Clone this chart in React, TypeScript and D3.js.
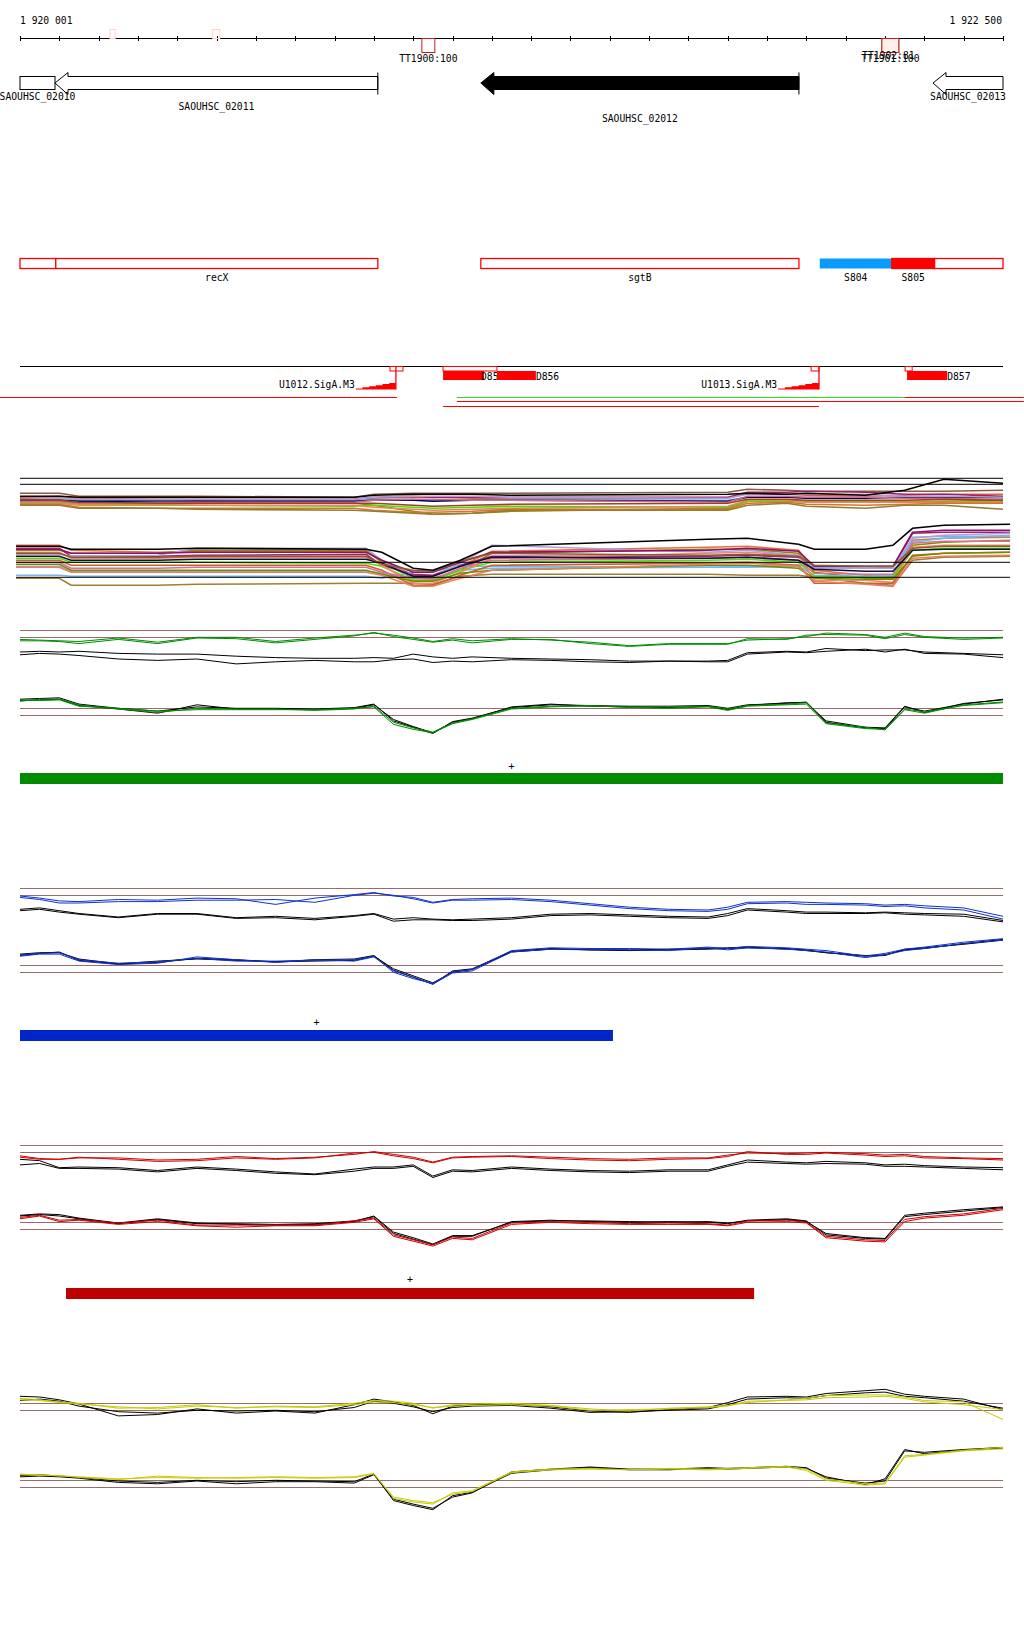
import React from "react";
import * as d3 from "d3";

// ---------------- genomic window ----------------
const windowStartLabel = "1 920 001";
const windowEndLabel = "1 922 500";
const windowLengthBp = 2500;
const tickStepBp = 100;

// ---------------- genes ----------------
const geneNames = ["SAOUHSC_02010", "SAOUHSC_02011", "SAOUHSC_02012", "SAOUHSC_02013"];
const geneStart = [0, 89, 1172, 2322];
const geneEnd = [89, 910, 1981, 2500];
const geneArrow = [false, true, true, true];
const geneFilled = [false, false, true, false];
const geneEndMark = [false, true, true, false];
const geneLabelRow = [0, 1, 2, 0];

// ---------------- terminators on the axis ----------------
const termNames = ["TT1900:100", "TT1902:81", "TT1901:100"];
const termStart = [1022, 2192, 2192];
const termEnd = [1055, 2235, 2235];
const faintMarkStart = [229, 490];
const faintMarkEnd = [242, 508];

// ---------------- feature row ----------------
const featNames = ["", "recX", "sgtB", "S804", "S805", ""];
const featStart = [0, 91, 1172, 2034, 2217, 2326];
const featEnd = [91, 910, 1981, 2217, 2326, 2500];
const featFill = ["none", "none", "none", "#0a9bff", "#ff0000", "none"];

// ---------------- promoters / transcripts ----------------
const promNames = ["U1012.SigA.M3", "U1013.SigA.M3"];
const promBoxStart = [941, 2012];
const promBoxEnd = [974, 2032];
const promRampStart = [854, 1928];
const promRampEnd = [956, 2032];
const tuNames = ["D855", "D856", "D857"];
const tuBoxStart = [1076, 1213, 2251];
const tuBoxEnd = [1213, 1213, 2269];
const tuFillStart = [1076, 1213, 2256];
const tuFillEnd = [1180, 1312, 2358];
const segStart = [-51, 1111, 2251, 1111, 1076];
const segEnd = [959, 2251, 2553, 2553, 2032];
const segColor = ["#ff0000", "#22dd22", "#ff0000", "#ff0000", "#ff0000"];
const segRow = [0, 0, 0, 1, 2];

// ---------------- multi-condition tracks ----------------
const topKnots = [0, 100, 150, 350, 450, 850, 900, 1000, 1050, 1150, 1250, 1800, 1850, 1950, 2000, 2150, 2250, 2350, 2500];
const topColors = ["#8c5a3c", "#e0603c", "#a0206e", "#6cb4f0", "#8c8c00", "#44e000", "#000050", "#f08060", "#d07830", "#b0a0d0", "#d06a90", "#9a7a30", "#a04020", "#000000"];
const top01 = [27, 27, 24, 24, 24, 23, 26, 27, 27, 27, 27, 28, 31, 30, 29, 29, 29, 29, 30];
const top02 = [23, 24, 22, 21, 21, 21, 22, 23, 23, 22, 22, 22, 27, 26, 25, 24, 25, 26, 26];
const top03 = [22, 22, 20, 20, 20, 21, 23, 24, 23, 23, 23, 23, 28, 28, 29, 28, 26, 26, 24];
const top04 = [21, 21, 20, 20, 19, 20, 21, 21, 20, 20, 21, 20, 23, 23, 23, 23, 23, 24, 22];
const top05 = [20, 19, 18, 17, 17, 17, 15, 9, 6, 7, 9, 12, 19, 20, 19, 19, 19, 19, 20];
const top06 = [18, 18, 16, 16, 15, 14, 15, 13, 12, 13, 14, 13, 19, 19, 18, 18, 18, 18, 19];
const top07 = [20, 20, 19, 19, 19, 19, 20, 20, 19, 20, 20, 19, 23, 23, 22, 22, 23, 23, 23];
const top08 = [17, 17, 15, 15, 15, 15, 13, 11, 10, 11, 12, 14, 20, 20, 18, 18, 18, 18, 18];
const top09 = [16, 16, 13, 12, 12, 12, 10, 8, 8, 9, 11, 11, 17, 18, 16, 15, 16, 17, 17];
const top10 = [22, 22, 21, 21, 21, 21, 23, 24, 24, 24, 23, 22, 26, 26, 26, 26, 24, 24, 23];
const top11 = [19, 19, 17, 18, 18, 18, 20, 21, 21, 20, 20, 18, 24, 24, 23, 23, 22, 22, 21];
const top12 = [15, 15, 12, 12, 11, 10, 9, 7, 6, 7, 10, 10, 15, 17, 14, 12, 15, 15, 11];
const top13 = [21, 20, 18, 17, 17, 17, 17, 15, 14, 15, 16, 17, 21, 21, 20, 20, 20, 21, 20];
const top14 = [24, 24, 23, 23, 23, 23, 25, 26, 26, 26, 25, 26, 27, 26, 27, 25, 30, 41, 37];
const topRefs = [36, 42];

const botKnots = [-10, 100, 130, 350, 450, 880, 920, 1000, 1050, 1120, 1200, 1750, 1850, 1980, 2020, 2150, 2220, 2270, 2350, 2518];
const botColors = ["#e07040", "#8a8a00", "#a0206e", "#70b8f0", "#70b8f0", "#a08030", "#50e000", "#f08870", "#b0a0d8", "#c86030", "#d87090", "#101040", "#7a8a00", "#901070", "#e88060", "#8c5a2d", "#000000"];
const bot01 = [55, 55, 50, 48, 49, 49, 40, 25, 24, 34, 49, 53, 54, 50, 30, 25, 24, 60, 62, 63];
const bot02 = [50, 50, 47, 47, 50, 50, 38, 22, 22, 30, 47, 51, 51, 47, 28, 22, 22, 55, 58, 60];
const bot03 = [52, 52, 44, 44, 45, 46, 35, 26, 25, 35, 44, 44, 45, 43, 33, 32, 33, 67, 68, 68];
const bot04 = [25, 25, 24, 24, 24, 24, 22, 28, 29, 34, 34, 33, 34, 35, 33, 32, 32, 58, 62, 65];
const bot05 = [34, 34, 29, 29, 29, 29, 27, 20, 20, 30, 32, 33, 33, 34, 25, 24, 25, 63, 64, 64];
const bot06 = [22, 22, 15, 15, 16, 17, 17, 17, 16, 24, 26, 26, 25, 25, 23, 17, 15, 40, 43, 44];
const bot07 = [42, 42, 38, 38, 38, 37, 34, 20, 20, 30, 38, 40, 41, 38, 24, 23, 23, 50, 52, 52];
const bot08 = [48, 48, 42, 42, 43, 43, 35, 17, 17, 28, 42, 47, 48, 45, 20, 20, 18, 53, 55, 55];
const bot09 = [46, 46, 44, 45, 52, 52, 40, 23, 23, 37, 55, 48, 50, 45, 32, 32, 32, 62, 65, 67];
const bot10 = [40, 40, 35, 35, 35, 35, 30, 15, 15, 25, 35, 37, 38, 35, 17, 17, 17, 45, 47, 48];
const bot11 = [38, 38, 32, 32, 33, 33, 28, 22, 21, 32, 40, 42, 43, 40, 27, 26, 26, 57, 59, 59];
const bot12 = [44, 44, 40, 40, 41, 41, 37, 24, 24, 34, 43, 42, 43, 40, 31, 29, 29, 50, 51, 51];
const bot13 = [36, 36, 30, 30, 30, 30, 26, 19, 19, 27, 30, 35, 35, 32, 22, 21, 21, 44, 47, 48];
const bot14 = [51, 51, 47, 47, 48, 48, 40, 28, 28, 38, 48, 50, 52, 49, 34, 34, 34, 68, 70, 70];
const bot15 = [33, 33, 28, 28, 28, 28, 25, 14, 14, 22, 30, 36, 37, 34, 19, 16, 14, 42, 44, 45];
const bot16 = [47, 47, 43, 43, 44, 44, 36, 30, 29, 39, 47, 45, 46, 44, 35, 34, 34, 52, 54, 54];
const bot17 = [54, 54, 51, 51, 52, 51, 48, 32, 30, 40, 54, 61, 62, 56, 51, 51, 55, 72, 75, 76];
const botRefs = [23, 38];

// ---------------- per-condition panels ----------------
const knotsBp = [0, 50, 100, 150, 250, 350, 450, 550, 650, 750, 850, 900, 950, 1000, 1050, 1100, 1150, 1250, 1350, 1450, 1550, 1650, 1750, 1800, 1850, 1950, 2000, 2050, 2150, 2200, 2250, 2300, 2400, 2500];
const upperRefs = [10, 9];
const lowerRefs = [6, 5];

const greenUpA = [8.7, 8.6, 8.5, 8.4, 8.9, 8.3, 9.0, 9.0, 8.4, 8.9, 9.3, 9.6, 9.3, 8.9, 8.4, 8.8, 8.5, 8.8, 8.6, 8.3, 7.8, 8.1, 8.1, 8.1, 8.6, 8.8, 9.1, 9.6, 9.4, 9.0, 9.6, 9.1, 8.9, 9.0];
const greenUpB = [8.5, 8.5, 8.4, 8.1, 8.7, 8.1, 8.9, 8.8, 8.2, 8.7, 9.2, 9.7, 9.1, 8.7, 8.3, 8.6, 8.2, 8.7, 8.7, 8.1, 7.7, 8.0, 8.0, 8.0, 8.8, 8.7, 9.3, 9.4, 9.3, 8.8, 9.4, 9.0, 8.7, 8.9];
const greenUpRefA = [6.9, 7.0, 6.9, 7.0, 6.7, 6.6, 6.6, 6.3, 6.1, 6.0, 6.0, 6.1, 6.0, 6.6, 6.2, 6.0, 6.2, 6.0, 5.9, 5.8, 5.6, 5.6, 5.6, 5.7, 6.8, 7.0, 6.9, 7.4, 7.1, 7.2, 7.2, 6.9, 6.7, 6.5];
const greenUpRefB = [6.5, 6.7, 6.6, 6.4, 5.9, 5.7, 5.9, 5.2, 5.5, 5.7, 5.5, 5.5, 5.8, 5.9, 5.4, 5.6, 5.5, 5.8, 5.7, 5.5, 5.4, 5.6, 5.5, 5.5, 6.6, 6.9, 6.8, 7.0, 7.3, 6.9, 7.3, 6.7, 6.6, 6.1];
const greenLoA = [7.0, 7.3, 7.3, 6.5, 5.9, 5.4, 6.0, 5.9, 5.9, 5.7, 5.9, 6.3, 4.0, 3.2, 2.6, 3.9, 4.5, 6.0, 6.3, 6.3, 6.2, 6.2, 6.3, 5.9, 6.4, 6.6, 6.8, 3.9, 3.3, 2.9, 5.8, 5.3, 6.5, 6.9];
const greenLoB = [7.2, 7.1, 7.2, 6.3, 6.0, 5.6, 5.8, 5.8, 5.8, 5.8, 6.0, 6.2, 3.7, 3.0, 2.5, 3.8, 4.4, 5.9, 6.2, 6.4, 6.1, 6.0, 6.2, 5.7, 6.3, 6.5, 6.6, 3.8, 3.1, 3.0, 5.9, 5.5, 6.4, 6.8];
const greenLoRefA = [7.3, 7.4, 7.5, 6.6, 6.0, 5.6, 6.2, 6.0, 6.0, 5.9, 6.1, 6.6, 4.2, 3.3, 2.4, 4.1, 4.6, 6.1, 6.5, 6.4, 6.3, 6.3, 6.4, 6.0, 6.5, 6.7, 6.9, 4.0, 3.2, 3.1, 6.2, 5.6, 6.6, 7.3];
const greenLoRefB = [7.1, 7.2, 7.3, 6.4, 5.9, 5.3, 6.5, 5.9, 5.9, 5.8, 6.0, 6.5, 4.4, 3.4, 2.5, 4.0, 4.5, 6.2, 6.6, 6.3, 6.2, 6.1, 6.3, 5.8, 6.4, 6.8, 6.8, 4.2, 3.3, 3.2, 6.3, 5.4, 6.7, 7.2];

const blueUpA = [8.9, 8.6, 8.2, 8.1, 8.4, 8.3, 8.6, 8.5, 7.7, 8.6, 9.1, 9.4, 8.9, 8.7, 8.0, 8.4, 8.5, 8.6, 8.3, 7.8, 7.3, 7.0, 6.9, 7.3, 8.0, 8.1, 8.0, 7.9, 7.8, 7.6, 7.7, 7.5, 7.2, 6.0];
const blueUpB = [8.7, 8.4, 7.9, 7.9, 8.1, 8.1, 8.3, 8.3, 8.4, 8.0, 9.0, 9.3, 9.0, 8.5, 7.9, 8.3, 8.3, 8.4, 8.1, 7.6, 7.1, 6.8, 6.7, 7.0, 7.8, 7.9, 7.7, 7.7, 7.6, 7.4, 7.5, 7.2, 6.9, 5.6];
const blueUpRefA = [7.0, 7.2, 6.8, 6.4, 5.9, 6.4, 6.4, 5.8, 6.0, 5.7, 6.1, 6.4, 5.6, 5.8, 5.6, 5.5, 5.6, 5.8, 6.3, 6.4, 6.2, 6.0, 5.9, 6.4, 7.1, 6.8, 6.6, 6.6, 6.5, 6.6, 6.5, 6.4, 6.3, 5.4];
const blueUpRefB = [6.8, 7.0, 6.6, 6.3, 5.8, 6.3, 6.3, 5.7, 5.8, 5.5, 6.0, 6.3, 5.3, 5.5, 5.5, 5.4, 5.4, 5.6, 6.1, 6.2, 6.0, 5.8, 5.7, 6.1, 6.9, 6.6, 6.4, 6.4, 6.4, 6.5, 6.3, 6.2, 6.0, 5.2];
const blueLoA = [7.5, 7.7, 7.8, 6.8, 6.3, 6.5, 7.0, 6.6, 6.6, 6.7, 6.8, 7.3, 5.0, 4.1, 3.4, 5.1, 5.4, 8.1, 8.5, 8.4, 8.4, 8.3, 8.6, 8.4, 8.7, 8.5, 8.3, 8.1, 7.3, 7.7, 8.3, 8.6, 9.3, 9.8];
const blueLoB = [7.3, 7.6, 7.6, 6.6, 6.1, 6.3, 7.2, 6.8, 6.4, 6.8, 6.6, 7.2, 5.2, 4.3, 3.3, 4.9, 5.2, 7.9, 8.3, 8.3, 8.2, 8.1, 8.5, 8.2, 8.5, 8.3, 8.1, 7.9, 7.1, 7.5, 8.1, 8.4, 9.1, 9.6];
const blueLoRefA = [7.6, 7.8, 7.8, 6.9, 6.2, 6.4, 7.0, 6.8, 6.5, 6.8, 6.9, 7.4, 5.3, 4.3, 3.3, 5.2, 5.5, 8.0, 8.4, 8.2, 8.2, 8.3, 8.4, 8.5, 8.6, 8.3, 8.2, 7.8, 7.3, 7.4, 8.3, 8.5, 9.0, 9.6];
const blueLoRefB = [7.4, 7.7, 7.9, 6.7, 6.2, 6.6, 6.9, 6.7, 6.5, 6.6, 6.7, 7.3, 5.5, 4.5, 3.5, 5.0, 5.4, 7.9, 8.3, 8.2, 8.1, 8.2, 8.3, 8.4, 8.5, 8.4, 8.1, 7.8, 7.4, 7.5, 8.2, 8.4, 9.1, 9.7];

const redUpA = [8.5, 8.1, 8.0, 8.2, 8.2, 7.9, 8.0, 8.4, 8.1, 8.3, 8.7, 9.1, 8.7, 8.3, 7.6, 8.3, 8.4, 8.5, 8.3, 8.1, 8.0, 8.2, 8.2, 8.6, 8.9, 8.8, 8.9, 9.0, 8.8, 8.6, 8.7, 8.4, 8.2, 8.1];
const redUpB = [8.3, 8.0, 8.0, 8.3, 8.0, 7.7, 7.8, 8.2, 8.0, 8.2, 8.9, 9.0, 8.5, 8.1, 7.5, 8.2, 8.3, 8.4, 8.1, 7.9, 7.8, 8.0, 8.1, 8.4, 9.1, 8.7, 8.7, 8.9, 8.6, 8.4, 8.5, 8.2, 8.1, 7.9];
const redUpRefA = [8.0, 7.8, 6.8, 6.9, 6.8, 6.4, 6.9, 6.6, 6.2, 5.9, 6.6, 6.9, 6.9, 7.2, 5.6, 6.5, 6.4, 6.9, 6.6, 6.4, 6.3, 6.5, 6.5, 7.2, 7.9, 7.6, 7.5, 7.7, 7.5, 7.2, 7.3, 7.1, 6.9, 6.8];
const redUpRefB = [7.2, 7.4, 6.7, 6.7, 6.6, 6.2, 6.7, 6.4, 6.0, 5.8, 6.3, 6.7, 6.7, 7.0, 5.4, 6.3, 6.2, 6.7, 6.4, 6.2, 6.1, 6.3, 6.3, 7.0, 7.6, 7.4, 7.3, 7.4, 7.3, 7.0, 7.0, 6.9, 6.7, 6.5];
const redLoA = [6.7, 7.0, 6.3, 6.4, 5.9, 6.3, 5.6, 5.6, 5.6, 5.6, 6.2, 6.6, 4.2, 3.5, 2.8, 3.9, 3.7, 5.9, 6.1, 6.0, 5.8, 5.9, 5.8, 5.6, 6.2, 6.3, 6.0, 4.0, 3.5, 3.4, 6.4, 6.8, 7.2, 8.0];
const redLoB = [6.5, 6.9, 6.1, 6.3, 5.7, 6.1, 5.5, 5.3, 5.5, 5.5, 6.0, 6.5, 4.0, 3.3, 2.6, 3.7, 3.5, 5.7, 6.0, 5.8, 5.7, 5.7, 5.7, 5.5, 6.0, 6.1, 5.9, 3.8, 3.3, 3.2, 6.1, 6.6, 7.0, 7.8];
const redLoRefA = [6.9, 7.1, 6.9, 6.5, 5.8, 6.4, 5.8, 5.8, 5.7, 5.8, 6.2, 6.8, 4.4, 3.6, 2.8, 4.0, 4.0, 6.1, 6.3, 6.1, 6.0, 6.1, 6.0, 5.8, 6.3, 6.5, 6.2, 4.2, 3.7, 3.6, 6.8, 7.1, 7.6, 8.1];
const redLoRefB = [7.0, 7.2, 7.1, 6.6, 5.9, 6.5, 5.9, 5.7, 5.6, 5.7, 6.1, 6.9, 4.6, 3.8, 2.9, 4.1, 4.1, 6.0, 6.2, 6.2, 6.1, 6.0, 6.1, 5.9, 6.2, 6.4, 6.1, 4.4, 3.8, 3.7, 7.0, 7.3, 7.8, 8.2];

const yellowUpA = [10.7, 10.5, 10.2, 10.0, 9.3, 9.4, 9.8, 9.3, 9.6, 9.5, 10.0, 10.4, 10.3, 10.0, 9.3, 9.8, 9.9, 10.0, 9.7, 9.2, 8.9, 9.3, 9.5, 9.7, 10.1, 10.5, 10.7, 11.1, 11.2, 11.2, 10.9, 10.4, 10.2, 7.7];
const yellowUpB = [10.5, 10.4, 10.1, 9.9, 9.5, 9.2, 9.6, 9.4, 9.5, 9.4, 9.8, 10.2, 10.1, 9.8, 9.4, 9.6, 9.7, 9.8, 9.6, 9.0, 9.1, 9.2, 9.4, 9.6, 10.3, 10.4, 10.5, 10.8, 10.9, 11.0, 10.7, 10.2, 9.8, 9.1];
const yellowUpRefA = [11.0, 10.9, 10.5, 9.9, 8.2, 8.4, 9.2, 8.6, 8.9, 8.6, 9.8, 10.6, 10.2, 9.7, 8.5, 9.6, 9.8, 9.9, 9.5, 8.9, 8.7, 9.1, 9.4, 10.1, 10.9, 11.0, 10.9, 11.4, 11.8, 12.0, 11.3, 11.0, 10.6, 9.1];
const yellowUpRefB = [10.4, 10.6, 10.3, 9.6, 8.8, 8.6, 9.0, 8.9, 9.0, 8.8, 9.4, 10.3, 10.0, 9.5, 8.8, 9.4, 9.6, 9.7, 9.3, 8.7, 8.8, 9.0, 9.2, 9.8, 10.6, 10.8, 10.7, 11.1, 11.5, 11.6, 11.0, 10.8, 10.3, 9.3];
const yellowLoA = [6.8, 6.8, 6.6, 6.5, 6.2, 6.4, 6.3, 6.4, 6.5, 6.4, 6.5, 7.0, 3.4, 2.9, 2.6, 4.2, 4.5, 7.2, 7.6, 7.7, 7.5, 7.7, 7.6, 7.7, 7.8, 8.0, 7.6, 6.2, 5.5, 5.6, 9.5, 9.7, 10.3, 10.7];
const yellowLoB = [6.9, 6.7, 6.7, 6.4, 6.1, 6.6, 6.4, 6.3, 6.4, 6.3, 6.4, 6.9, 3.6, 3.1, 2.8, 4.0, 4.4, 7.1, 7.5, 7.6, 7.5, 7.6, 7.5, 7.6, 7.7, 7.9, 7.4, 6.0, 5.3, 5.5, 9.3, 9.6, 10.2, 10.5];
const yellowLoRefA = [6.5, 6.6, 6.5, 6.3, 5.7, 5.5, 5.9, 5.5, 5.8, 5.8, 5.6, 6.8, 3.3, 2.6, 2.0, 3.6, 4.2, 7.2, 7.6, 7.9, 7.6, 7.6, 7.8, 7.7, 7.8, 8.0, 7.8, 6.3, 5.6, 5.9, 10.2, 10.0, 10.4, 10.7];
const yellowLoRefB = [6.7, 6.8, 6.6, 6.4, 5.9, 5.7, 6.0, 5.8, 6.0, 5.9, 5.8, 6.9, 3.1, 2.4, 1.8, 3.8, 4.3, 7.0, 7.5, 7.8, 7.5, 7.5, 7.7, 7.6, 7.7, 7.9, 7.7, 6.5, 5.4, 6.2, 10.4, 9.8, 10.3, 10.6];

const conditionColors = ["#008c00", "#1030d0", "#cc0000", "#c4cc00"];
const conditionBarColors = ["#008c00", "#0026c8", "#be0000", "none"];
const conditionBarStart = [0, 0, 117, 0];
const conditionBarEnd = [2500, 1508, 1867, 0];

// ---------------- layout ----------------
const X0 = 20, X1 = 1003;
const AXIS_Y = 38.5;
const GENE_TOP = 76.5, GENE_BOT = 89.5, HEAD_TOP = 72.5, HEAD_BOT = 94.5;
const GENE_LABEL_Y = [100, 110, 122];
const FEAT_TOP = 258.5, FEAT_BOT = 268.5;
const ROW3_Y = 366.5;
const SEG_Y = [397.5, 401.5, 406.5];
const PANELS = [
  { upTop: 630.3, loTop: 708.3, barTop: 773, plusY: 770 },
  { upTop: 888.3, loTop: 965.3, barTop: 1030, plusY: 1026 },
  { upTop: 1145.3, loTop: 1222.3, barTop: 1288, plusY: 1283 },
  { upTop: 1403.3, loTop: 1480.3, barTop: 0, plusY: 0 },
];
const REF_COLOR = "#9c6a6a";
const FONT = "'DejaVu Sans Mono', 'Liberation Mono', monospace";
const FS = 9.7;
const BAND_STROKE = 1.6;

const x = d3.scaleLinear().domain([0, windowLengthBp]).range([X0, X1]);

function linePath(knots: number[], vals: number[], y: (v: number) => number) {
  const pts: [number, number][] = vals.map((v, i) => [knots[i], v] as [number, number]).filter((p) => p[0] !== undefined);
  return d3.line<[number, number]>().x((p) => x(p[0])).y((p) => y(p[1]))(pts) || "";
}

function ConditionPanel({ idx, up, lo }: { idx: number; up: number[][]; lo: number[][] }) {
  const P = PANELS[idx];
  const color = conditionColors[idx];
  const yU = d3.scaleLinear().domain([10, 0]).range([P.upTop, P.upTop + 70]);
  const yL = d3.scaleLinear().domain([6, 0]).range([P.loTop, P.loTop + 42]);
  const sub = (series: number[][], y: (v: number) => number, refs: number[]) => (
    <g>
      {refs.map((r, i) => (
        <line key={"r" + i} x1={X0} x2={X1} y1={Math.round(y(r)) + 0.5} y2={Math.round(y(r)) + 0.5} stroke={REF_COLOR} strokeWidth={1} />
      ))}
      <path d={linePath(knotsBp, series[2], y)} fill="none" stroke="#000" strokeWidth={1} />
      <path d={linePath(knotsBp, series[3], y)} fill="none" stroke="#000" strokeWidth={1} />
      <path d={linePath(knotsBp, series[0], y)} fill="none" stroke={color} strokeWidth={1} />
      <path d={linePath(knotsBp, series[1], y)} fill="none" stroke={color} strokeWidth={1} />
    </g>
  );
  const hasBar = conditionBarEnd[idx] > conditionBarStart[idx];
  const bs = conditionBarStart[idx], be = conditionBarEnd[idx];
  return (
    <g>
      {sub(up, yU, upperRefs)}
      {sub(lo, yL, lowerRefs)}
      {hasBar && (
        <g>
          <text x={x((bs + be) / 2)} y={P.plusY} fontSize={10} textAnchor="middle" fontFamily={FONT}>+</text>
          <rect x={x(bs)} y={P.barTop} width={x(be) - x(bs)} height={11} fill={conditionBarColors[idx]} />
        </g>
      )}
    </g>
  );
}

export default function App() {
  const ticks = d3.range(0, windowLengthBp + 1, tickStepBp);
  const yTop = d3.scaleLinear().domain([0, 50]).range([520.3, 470.3]);
  const yBot = d3.scaleLinear().domain([0, 80]).range([600.3, 520.3]);
  const topSeries = [top01, top02, top03, top04, top05, top06, top07, top08, top09, top10, top11, top12, top13, top14];
  const botSeries = [bot01, bot02, bot03, bot04, bot05, bot06, bot07, bot08, bot09, bot10, bot11, bot12, bot13, bot14, bot15, bot16, bot17];

  const arrowPath = (s: number, e: number) => {
    const tip = x(s), xe = x(e), hb = tip + 13, mid = (GENE_TOP + GENE_BOT) / 2;
    return `M${tip},${mid} L${hb},${HEAD_TOP} L${hb},${GENE_TOP} L${xe},${GENE_TOP} L${xe},${GENE_BOT} L${hb},${GENE_BOT} L${hb},${HEAD_BOT} Z`;
  };

  const ramp = (s: number, e: number) => {
    const xs = x(s), xe = x(e), steps = 6, w = (xe - xs) / steps, bottom = 389.5, h = 6.5;
    let d = `M${xs},${bottom}`;
    for (let i = 0; i < steps; i++) {
      const hh = ((i + 1) / steps) * h;
      d += ` L${xs + i * w},${bottom - hh} L${xs + (i + 1) * w},${bottom - hh}`;
    }
    d += ` L${xe},${bottom} Z`;
    return d;
  };

  return (
    <svg width={1024} height={1640} style={{ position: "absolute", left: 0, top: 0, background: "#fff" }} fontFamily={FONT} fontSize={FS}>
      <rect x={0} y={0} width={1024} height={1640} fill="#fff" />
      {/* axis */}
      <text x={X0} y={24}>{windowStartLabel}</text>
      <text x={X1 - 1} y={24} textAnchor="end">{windowEndLabel}</text>
      <line x1={X0} x2={X1} y1={AXIS_Y} y2={AXIS_Y} stroke="#000" strokeWidth={1} />
      {ticks.map((t) => (
        <line key={t} x1={Math.round(x(t)) + 0.5} x2={Math.round(x(t)) + 0.5} y1={36} y2={41} stroke="#000" strokeWidth={1} />
      ))}
      {faintMarkStart.map((s, i) => (
        <rect key={"fm" + i} x={x(s)} y={29.5} width={x(faintMarkEnd[i]) - x(s)} height={9} fill="none" stroke="#ffd2c4" strokeWidth={1} />
      ))}
      {termStart.map((s, i) => (
        <rect key={"tt" + i} x={x(s)} y={AXIS_Y} width={x(termEnd[i]) - x(s)} height={14} fill={i === 0 ? "none" : "#fff0ec"} stroke="#c02020" strokeWidth={1} />
      ))}
      {termNames.map((n, i) => (
        <text key={n} x={x((termStart[i] + termEnd[i]) / 2) + (i === 1 ? -2 : 0)} y={i === 1 ? 59 : 62} textAnchor="middle">{n}</text>
      ))}

      {/* genes */}
      {geneNames.map((n, i) => {
        const s = geneStart[i], e = geneEnd[i];
        return (
          <g key={n}>
            {geneArrow[i] ? (
              <path d={arrowPath(s, e)} fill={geneFilled[i] ? "#000" : "#fff"} stroke="#000" strokeWidth={1} />
            ) : (
              <rect x={x(s)} y={GENE_TOP} width={x(e) - x(s)} height={GENE_BOT - GENE_TOP} fill="#fff" stroke="#000" strokeWidth={1} />
            )}
            {geneEndMark[i] && <line x1={x(e)} x2={x(e)} y1={HEAD_TOP} y2={HEAD_BOT} stroke="#000" strokeWidth={1} />}
          </g>
        );
      })}
      {geneNames.map((n, i) => (
        <text key={"l" + n} x={x((geneStart[i] + geneEnd[i]) / 2)} y={GENE_LABEL_Y[geneLabelRow[i]]} textAnchor="middle">{n}</text>
      ))}

      {/* feature row */}
      {featStart.map((s, i) => (
        <rect key={"f" + i} x={x(s)} y={FEAT_TOP} width={x(featEnd[i]) - x(s)} height={FEAT_BOT - FEAT_TOP}
          fill={featFill[i] === "none" ? "#fff" : featFill[i]} stroke={featFill[i] === "#0a9bff" ? "none" : "#ff0000"} strokeWidth={1.3} />
      ))}
      {featNames.map((n, i) => n && (
        <text key={"fl" + i} x={x((featStart[i] + featEnd[i]) / 2)} y={281} textAnchor="middle">{n}</text>
      ))}

      {/* promoters and transcription units */}
      <line x1={X0} x2={X1} y1={ROW3_Y} y2={ROW3_Y} stroke="#000" strokeWidth={1} />
      {promNames.map((n, i) => (
        <g key={n}>
          <rect x={x(promBoxStart[i])} y={ROW3_Y} width={x(promBoxEnd[i]) - x(promBoxStart[i])} height={4.5} fill="#fff" stroke="#ff0000" strokeWidth={1} />
          <line x1={x(promRampEnd[i])} x2={x(promRampEnd[i])} y1={ROW3_Y} y2={389.5} stroke="#ff0000" strokeWidth={1.3} />
          <path d={ramp(promRampStart[i], promRampEnd[i])} fill="#ff0000" />
          <text x={x(promRampStart[i]) - 1} y={387.5} textAnchor="end">{n}</text>
        </g>
      ))}
      {tuNames.map((n, i) => (
        <g key={n}>
          {tuBoxEnd[i] > tuBoxStart[i] && (
            <rect x={x(tuBoxStart[i])} y={ROW3_Y} width={x(tuBoxEnd[i]) - x(tuBoxStart[i])} height={4.5} fill="#fff" stroke="#ff0000" strokeWidth={1} />
          )}
          <rect x={x(tuFillStart[i])} y={371} width={x(tuFillEnd[i]) - x(tuFillStart[i])} height={9} fill="#ff0000" />
          <text x={x(tuFillEnd[i]) + (i === 0 ? -3 : 0)} y={380}>{n}</text>
        </g>
      ))}
      {segStart.map((s, i) => (
        <line key={"seg" + i} x1={x(s)} x2={x(segEnd[i])} y1={SEG_Y[segRow[i]]} y2={SEG_Y[segRow[i]]} stroke={segColor[i]} strokeWidth={1} />
      ))}

      {/* multi-condition tracks */}
      {topSeries.map((s, i) => (
        <path key={"ts" + i} d={linePath(topKnots, s, yTop)} fill="none" stroke={topColors[i]} strokeWidth={BAND_STROKE} />
      ))}
      {topRefs.map((r) => (
        <line key={"tr" + r} x1={X0} x2={X1} y1={yTop(r)} y2={yTop(r)} stroke="#000" strokeWidth={1} />
      ))}
      {botSeries.map((s, i) => (
        <path key={"bs" + i} d={linePath(botKnots, s, yBot)} fill="none" stroke={botColors[i]} strokeWidth={BAND_STROKE} />
      ))}
      {botRefs.map((r) => (
        <line key={"br" + r} x1={x(-10)} x2={x(2518)} y1={yBot(r)} y2={yBot(r)} stroke="#000" strokeWidth={1} />
      ))}

      <ConditionPanel idx={0} up={[greenUpA, greenUpB, greenUpRefA, greenUpRefB]} lo={[greenLoA, greenLoB, greenLoRefA, greenLoRefB]} />
      <ConditionPanel idx={1} up={[blueUpA, blueUpB, blueUpRefA, blueUpRefB]} lo={[blueLoA, blueLoB, blueLoRefA, blueLoRefB]} />
      <ConditionPanel idx={2} up={[redUpA, redUpB, redUpRefA, redUpRefB]} lo={[redLoA, redLoB, redLoRefA, redLoRefB]} />
      <ConditionPanel idx={3} up={[yellowUpA, yellowUpB, yellowUpRefA, yellowUpRefB]} lo={[yellowLoA, yellowLoB, yellowLoRefA, yellowLoRefB]} />
    </svg>
  );
}
